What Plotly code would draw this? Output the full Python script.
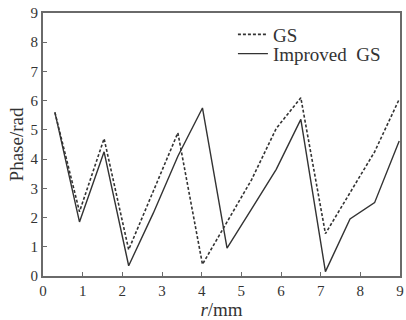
import plotly.graph_objects as go

r_mm = [0.30, 0.92, 1.54, 2.16, 2.78, 3.40, 4.02, 4.64, 5.26, 5.88, 6.50, 7.12, 7.74, 8.36, 8.98]
phase_gs = [5.6, 2.2, 4.7, 0.9, 2.9, 4.9, 0.4, 1.85, 3.3, 5.05, 6.1, 1.45, 2.85, 4.25, 6.05]
phase_improved = [5.6, 1.85, 4.25, 0.35, 2.15, 4.1, 5.75, 0.95, 2.3, 3.65, 5.36, 0.15, 1.95, 2.51, 4.62]
x_ticks = [0, 1, 2, 3, 4, 5, 6, 7, 8, 9]
y_ticks = [0, 1, 2, 3, 4, 5, 6, 7, 8, 9]

font = "Liberation Serif, Times New Roman, serif"
ink = "#333333"
axis_col = "#6a6a6a"
leg_font = dict(size=19, family=font, color="#333333")

fig = go.Figure()
fig.add_trace(go.Scatter(x=r_mm, y=phase_gs, mode="lines", name="GS", legend="legend",
                         line=dict(color=ink, width=1.6, dash="3px,2px")))
fig.add_trace(go.Scatter(x=r_mm, y=phase_improved, mode="lines", name="Improved  GS",
                         legend="legend2", line=dict(color=ink, width=1.4)))

fig.update_layout(
    width=406, height=320,
    margin=dict(l=43, r=2, t=13, b=43),
    paper_bgcolor="white", plot_bgcolor="white",
    font=dict(family=font, size=15, color="#333333"),
    showlegend=True,
    legend=dict(x=0.532, y=0.918, xanchor="left", yanchor="middle",
                bgcolor="rgba(0,0,0,0)", font=leg_font),
    legend2=dict(x=0.532, y=0.845, xanchor="left", yanchor="middle",
                 bgcolor="rgba(0,0,0,0)", font=leg_font),
)
fig.update_xaxes(range=[0, 9], tickvals=x_ticks, ticks="inside", ticklen=4,
                 tickcolor=axis_col, showline=True, linecolor=axis_col, linewidth=2,
                 mirror=True, showgrid=False, zeroline=False,
                 tickfont=dict(size=15),
                 title=dict(text="<i>r</i>/mm", standoff=6, font=dict(size=19)))
fig.update_yaxes(range=[0, 9], tickvals=y_ticks, ticks="inside", ticklen=4,
                 tickcolor=axis_col, showline=True, linecolor=axis_col, linewidth=2,
                 mirror=True, showgrid=False, zeroline=False,
                 tickfont=dict(size=15),
                 title=dict(text="Phase/rad", standoff=2, font=dict(size=19)))

fig.write_html("out.html")
